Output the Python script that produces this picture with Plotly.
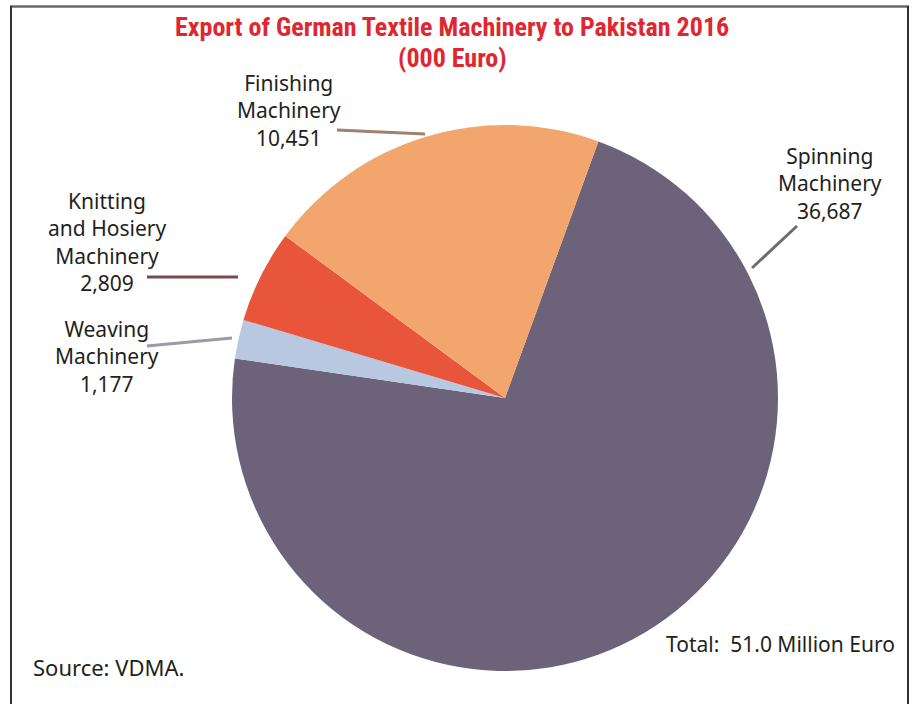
import plotly.graph_objects as go

categories = ["Spinning Machinery", "Weaving Machinery", "Knitting and Hosiery Machinery", "Finishing Machinery"]
values = [36687, 1177, 2809, 10451]
colors = ["#6c6279", "#b7c8e0", "#e8553a", "#f2a56c"]
label_texts = ["Spinning<br>Machinery<br>36,687", "Weaving<br>Machinery<br>1,177",
               "Knitting<br>and Hosiery<br>Machinery<br>2,809", "Finishing<br>Machinery<br>10,451"]
title_lines = ["Export of German Textile Machinery to Pakistan 2016", "(000 Euro)"]
total_text = "Total:  51.0 Million Euro"
source_text = "Source: VDMA."

W, H = 912, 704
cx, cy, r = 505, 398, 273


def px(x): return x / W
def py(y): return 1 - y / H


fig = go.Figure(go.Pie(
    labels=categories, values=values, sort=False, direction="clockwise", rotation=20,
    marker=dict(colors=colors, line=dict(width=0)), textinfo="none", hoverinfo="label+value",
    domain=dict(x=[(cx - r) / W, (cx + r) / W], y=[(H - cy - r) / H, (H - cy + r) / H]),
    showlegend=False,
))

lab_font = dict(family="Noto Sans, Open Sans, sans-serif", size=21, color="#231f20")
annotations = []
label_layout = [
    (830, 183, (797, 226), (752, 268)),
    (107, 356, (147, 346), (232, 338)),
    (107, 242, (147, 277), (238, 277)),
    (289, 110, (337, 130), (425, 134)),
]
for txt, (lx, ly, p0, p1) in zip(label_texts, label_layout):
    annotations.append(dict(x=px(lx), y=py(ly), xref="paper", yref="paper", text=txt,
                            showarrow=False, font=lab_font, align="center",
                            xanchor="center", yanchor="middle"))
shapes = []
line_colors = ["#6c6a72", "#9a9aa8", "#7a4a50", "#a08070"]
for (lx, ly, p0, p1), lc in zip(label_layout, line_colors):
    shapes.append(dict(type="line", xref="paper", yref="paper", x0=px(p0[0]), y0=py(p0[1]),
                       x1=px(p1[0]), y1=py(p1[1]), line=dict(color=lc, width=3)))

# frame
shapes.append(dict(type="line", xref="paper", yref="paper", x0=px(10), y0=py(6.5), x1=px(909), y1=py(6.5),
                   line=dict(color="#6a6a6a", width=2.5)))
shapes.append(dict(type="line", xref="paper", yref="paper", x0=px(11), y0=py(6), x1=px(11), y1=py(720),
                   line=dict(color="#333333", width=2)))
shapes.append(dict(type="line", xref="paper", yref="paper", x0=px(908), y0=py(6), x1=px(908), y1=py(720),
                   line=dict(color="#333333", width=2)))

title_font = dict(family="Liberation Sans Narrow, Roboto Condensed, Arial Narrow, sans-serif",
                  size=26, color="#e0262f")
for t, ty in zip(title_lines, [27, 58]):
    annotations.append(dict(x=px(452), y=py(ty), xref="paper", yref="paper", text="<b>" + t + "</b>",
                            showarrow=False, xanchor="center", yanchor="middle", font=title_font))
annotations.append(dict(x=px(897), y=py(644), xref="paper", yref="paper", text=total_text,
                        showarrow=False, xanchor="right", yanchor="middle",
                        font=dict(family="Noto Sans, Open Sans, sans-serif", size=21, color="#231f20")))
annotations.append(dict(x=px(31), y=py(667), xref="paper", yref="paper", text=source_text,
                        showarrow=False, xanchor="left", yanchor="middle",
                        font=dict(family="Noto Sans, Open Sans, sans-serif", size=22, color="#231f20")))

fig.update_layout(width=W, height=H, margin=dict(l=0, r=0, t=0, b=0),
                  paper_bgcolor="white", plot_bgcolor="white",
                  annotations=annotations, shapes=shapes)
fig.write_html("out.html", config={"displayModeBar": False},
               post_script="document.body.style.margin='0';document.body.style.overflow='hidden';")
